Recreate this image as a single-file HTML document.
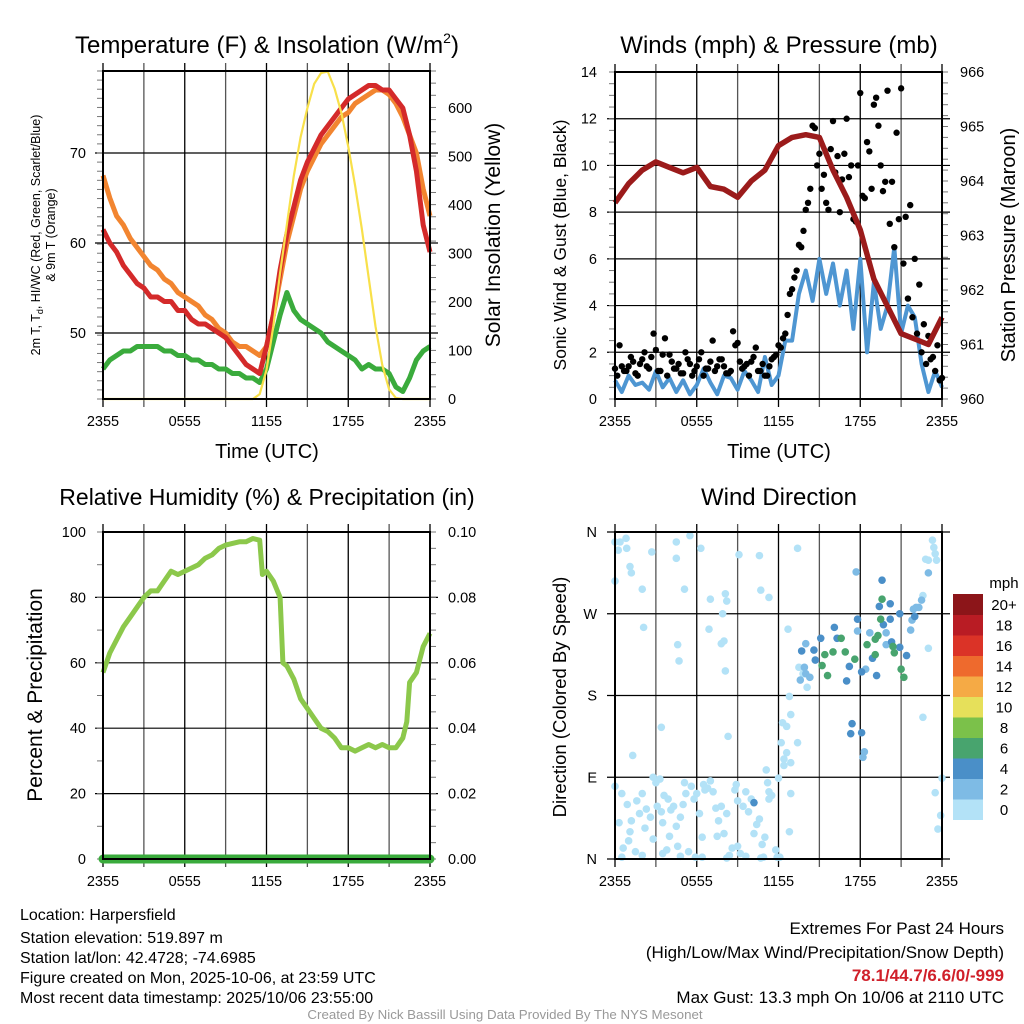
<!DOCTYPE html>
<html><head><meta charset="utf-8"><style>
html,body{margin:0;padding:0;background:#fff;}
svg{display:block;font-family:"Liberation Sans",Arial,sans-serif;}
</style></head><body>
<svg id="fig" width="1024" height="1024" viewBox="0 0 1024 1024" xmlns="http://www.w3.org/2000/svg">
<g id="p1"></g>
<g id="p2"></g>
<g id="p3"></g>
<g id="p4"></g>
<g id="cb"></g>
<g font-size="16" fill="#000">
<text x="20" y="920">Location: Harpersfield</text>
<text x="20" y="943">Station elevation: 519.897 m</text>
<text x="20" y="963">Station lat/lon: 42.4728; -74.6985</text>
<text x="20" y="983">Figure created on Mon, 2025-10-06, at 23:59 UTC</text>
<text x="20" y="1003">Most recent data timestamp: 2025/10/06 23:55:00</text>
</g>
<g text-anchor="end" font-size="17">
<text x="1004" y="934">Extremes For Past 24 Hours</text>
<text x="1004" y="958">(High/Low/Max Wind/Precipitation/Snow Depth)</text>
<text x="1004" y="981" fill="#d0202a" font-weight="bold">78.1/44.7/6.6/0/-999</text>
<text x="1004" y="1003">Max Gust: 13.3 mph On 10/06 at 2110 UTC</text>
</g>
<text x="505" y="1019" text-anchor="middle" font-size="13.3" fill="#999">Created By Nick Bassill Using Data Provided By The NYS Mesonet</text>
</svg>
<script>
// ---------- data ----------
const xTickLabels = ["2355","0555","1155","1755","2355"];
const xTickHours = [0,6,12,18,24];
const tempHours = [0,0.5,1,1.5,2,2.5,3,3.5,4,4.5,5,5.5,6,6.5,7,7.5,8,8.5,9,9.5,10,10.5,11,11.5,12,12.5,13,13.5,14,14.5,15,15.5,16,16.5,17,17.5,18,18.5,19,19.5,20,20.5,21,21.5,22,22.5,23,23.5,24];
const tempRed = [61.5,60,59,57.5,56.5,55.5,55,54,54,53.5,53.5,52.5,52.5,51.5,51,51,50.5,50,49.5,48.5,47.5,46.5,46,45.5,48.5,52,57,61,64,67,69,70.5,72,73,74,75,76,76.5,77,77.5,77.5,77,77,76,75,72,68,62,59];
const tempOrange = [67.5,65,63,62,60.5,59.5,58.5,57.5,57,56,55.5,54.5,54,53.5,53,52,51.5,50.5,50,49,48.5,48.5,48,47.5,48.5,52,56,60,63,66,68,69.5,71,72,73,74,74.5,75.5,76,76.5,77,77,76.5,75.5,74,72,70,66,63];
const tempGreen = [46,47,47.5,48,48,48.5,48.5,48.5,48.5,48,48,47.5,47.5,47,47,46.5,46.5,46,46,45.5,45.5,45,45,44.5,46,49,52,54.5,52.5,51.5,51,50.5,50,49,48.5,48,47.5,47,46,46.5,46,46,45.5,44,43.5,45,47,48,48.5];
const solarHours = [0,11,11.5,12,12.5,13,13.5,14,14.5,15,15.5,16,16.5,17,17.5,18,18.5,19,19.5,20,20.5,21,21.5,22,24];
const solarVals = [0,0,10,60,150,260,360,460,540,600,650,672,675,640,590,520,440,350,250,150,70,20,2,0,0];
const tempTicks = [50,60,70];
const solarTicks = [0,100,200,300,400,500,600];

const windHours = Array.from({length:49},(_,i)=>i/2);
const windVals = [0.8,0.3,1.0,0.6,0.7,0.4,1.2,0.5,0.9,0.3,0.8,0.2,0.6,1.3,0.7,0.2,1.0,0.9,0.4,1.2,0.8,0.3,1.8,0.6,1.0,2.5,2.5,4.5,5.5,4.2,6.0,4.5,5.8,4.0,5.5,3.0,6.0,2.0,5.0,3.0,4.0,6.5,2.8,4.0,3.5,1.5,0.3,1.2,0.5];
const gustHours = Array.from({length:73},(_,i)=>i/3);
const gustVals = [1.3,2.3,1.2,1.4,1.6,1.0,1.7,1.4,1.8,2.1,1.2,2.6,1.9,1.3,1.5,1.1,1.7,1.0,1.4,2.0,1.3,1.6,1.2,1.7,1.4,1.1,2.9,2.4,1.3,1.5,1.6,2.2,1.2,1.0,1.4,1.8,2.3,2.6,3.6,4.7,5.5,6.5,8.1,9.0,11.6,10.5,9.6,8.1,11.9,10.4,9.4,12.0,10.0,7.6,13.1,8.6,10.6,12.6,11.7,8.9,13.2,9.3,11.4,13.3,7.8,8.3,6.0,4.9,3.2,2.7,1.8,2.3,0.9];
const gustHours2 = Array.from({length:72},(_,i)=>i/3+1/6);
const gustVals2 = [1.0,1.4,1.2,1.8,1.1,1.5,2.0,1.3,2.8,1.2,1.9,1.0,1.6,1.3,1.1,2.0,1.5,1.2,1.7,1.0,1.3,2.5,1.4,1.7,1.1,1.2,2.3,1.6,1.4,1.0,1.8,1.2,1.5,1.0,1.7,1.9,2.2,2.8,4.5,5.2,6.6,7.2,8.4,11.7,10.0,9.0,8.4,10.7,9.7,8.0,10.5,9.5,7.7,10.0,8.7,11.0,9.0,12.9,10.0,9.3,7.5,6.5,7.7,5.8,4.3,3.5,2.8,2.0,1.5,1.7,1.2,0.8];
const pressHours = [0,1,2,3,4,5,6,7,8,9,10,11,12,13,14,15,16,17,18,19,20,21,22,23,24];
const pressVals = [963.6,963.95,964.2,964.35,964.25,964.15,964.25,963.9,963.85,963.7,964.0,964.2,964.65,964.8,964.85,964.8,964.2,963.7,963.1,962.2,961.7,961.2,961.1,961.0,961.5];
const windTicks = [0,2,4,6,8,10,12,14];
const pressTicks = [960,961,962,963,964,965,966];

const rhHours = [0,0.5,1,1.5,2,2.5,3,3.5,4,4.5,5,5.5,6,6.5,7,7.5,8,8.5,9,9.5,10,10.5,11,11.5,11.7,12,12.5,13,13.2,13.5,14,14.5,15,15.5,16,16.5,17,17.5,18,18.5,19,19.5,20,20.5,21,21.5,22,22.3,22.5,23,23.5,24];
const rhVals = [57,63,67,71,74,77,80,82,82,85,88,87,88,89,90,92,93,95,96,96.5,97,97,98,97.5,87,88,85,80,60,59,55,49,46,43,40,39,37,34,34,33,34,35,34,35,34,34,37,42,54,57,65,69];
const precipVals = [0,0];
const rhTicks = [0,20,40,60,80,100];
const precipTicks = ["0.00","0.02","0.04","0.06","0.08","0.10"];

const dirLabels = ["N","E","S","W","N"];
const dirTicks = [0,90,180,270,360];
const dirHours = [0,0.37,0.81,0.86,0.24,0,1.1,1.2,2.0,2.7,4.5,4.5,5.1,5.5,6.3,7.0,8.1,8.2,7.9,9.1,10.6,10.7,11.3,13.4,2.1,4.6,4.7,6.9,7.8,8.0,8.1,12.7,3.4,8.3,1.3,22.6,23.0,22.8,23.3,23.4,23.5,23.6,23.0,23.0,22.6,22.1,21.8,21.7,24,23.5,23.9,23.7,
13.5,13.8,14.1,12.8,12.9,12.3,12.6,12.2,13.4,12.6,12.4,12.9,12.4,12.0,11.1,11.2,
14.0,13.7,14.6,15.1,14.7,15.2,15.6,15.4,16.0,16.1,16.3,16.6,16.9,17.2,17.0,17.6,17.7,17.8,17.8,18.1,18.4,18.7,18.9,19.1,18.5,19.1,19.3,19.2,19.6,19.4,19.6,19.5,19.7,20.2,20.2,19.9,19.9,20.3,20.4,20.5,20.9,20.9,21.0,21.2,21.4,22.0,21.9,22.3,22.5,17.4,17.3,18.1,18.3,18.2,10.2,14.0,14.3,13.6,13.9,
0,0.3,0.5,0.6,0.9,1.0,1.2,1.5,1.6,1.8,2.0,2.2,2.3,2.6,2.8,3.0,3.1,3.3,3.4,3.5,3.6,3.8,3.9,4.0,4.1,4.3,4.5,4.6,4.8,5.0,5.2,5.4,5.6,5.8,6.0,6.2,6.4,6.5,6.6,6.8,7.0,7.2,7.4,7.6,7.8,8.0,8.2,8.4,8.6,8.8,9.0,9.2,9.4,9.6,9.8,10.0,10.2,10.4,10.6,10.8,11.0,11.3,11.5,11.8,11.9,5.9,8.2,10.7,10.9,0.5,2.0,3.5,4.8,6.4,1.1,2.8,9.0,9.6,7.5,5.1,12.8,12.9,12.1,11.3,8.9];
const dirDeg = [349,349,353,342,340,306,322,315,297,338,349,331,297,356,342,286,292,284,270,335,334,296,288,342,255,236,218,253,237,240,207,253,145,135,114,156,232,330,351,343,336,329,329,315,290,277,263,252,89,73,48,33,
211,204,189,179,159,150,146,128,128,117,110,106,103,89,98,84,
237,229,230,243,219,213,202,225,228,255,243,243,228,212,196,220,316,264,251,206,209,249,221,225,236,242,246,202,307,278,286,264,258,281,264,249,236,239,234,227,233,270,209,200,224,267,275,277,285,149,138,139,118,112,62,204,200,197,211,
80,40,72,12,60,20,42,8,64,50,72,34,55,46,22,84,58,88,52,40,70,10,66,25,54,58,36,14,46,60,72,8,80,66,72,50,24,82,76,78,86,74,56,42,58,28,50,4,12,76,64,6,58,74,52,66,28,38,44,16,24,66,70,10,2,2,1,1,2,2,4,6,3,2,30,90,14,3,25,84,30,72,2,74,82];
const dirSpeed = [1,1,1,1,1,1,1,1,1,1,1,1,1,1,1,1,1,1,1,1,1,1,1,1,1,1,1,1,1,1,1,1,1,1,1,1,1,1,1,1,1,1,1,3,1,3,3,3,1,1,1,1,
1,1,1,1,1,1,1,1,1,1,1,1,1,1,1,1,
3,5,5,5,5,7,7,7,7,5,5,7,7,5,5,7,3,5,3,5,3,3,5,7,7,7,7,5,5,5,7,7,5,5,5,3,3,5,7,7,5,5,7,7,5,5,3,3,3,5,5,5,3,3,5,3,3,3,3,
1,1,1,1,1,1,1,1,1,1,1,1,1,1,1,1,1,1,1,1,1,1,1,1,1,1,1,1,1,1,1,1,1,1,1,1,1,1,1,1,1,1,1,1,1,1,1,1,1,1,1,1,1,1,1,1,1,1,1,1,1,1,1,1,1,1,1,1,1,1,1,1,1,1,1,1,1,1,1,1,1,1,1,1,1];
const cbLabels = ["0","2","4","6","8","10","12","14","16","18","20+"];
const cbColors = ["#b3e2f7","#7ebbe5","#4a8fc8","#48a46e","#7bc14a","#e6e05a","#f5aa45","#ee6a2d","#db3327","#b91c24","#8c1519"];

// ---------- helpers ----------
const NS="http://www.w3.org/2000/svg";
function mk(parent,tag,attrs,text){const e=document.createElementNS(NS,tag);for(const k in attrs)e.setAttribute(k,attrs[k]);if(text!==undefined)e.textContent=text;parent.appendChild(e);return e;}
function panel(g,x0,y0,x1,y1){
  const X=h=>x0+(x1-x0)*h/24;
  for(let h=0;h<=24;h+=3){const l=mk(g,'line',{x1:X(h),x2:X(h),y1:y0-8,y2:y1+8,stroke:(h%6===0?'#000':'#555'),'stroke-width':1.3});
    
    }
  xTickHours.forEach((h,i)=>{const t=mk(g,'text',{x:X(h),y:y1+27,'text-anchor':'middle','font-size':14.5},xTickLabels[i]);
    
    });
  return X;
}
function hgrid(g,x0,x1,y){const l=mk(g,'line',{x1:x0-8,x2:x1+8,y1:y,y2:y,stroke:'#000','stroke-width':1.2});
  
  }
function pathFrom(xs,ys,X,Y){return xs.map((h,i)=>(i?'L':'M')+X(h).toFixed(1)+','+Y(ys[i]).toFixed(1)).join('');}
function frame(g,x0,y0,x1,y1){const r=mk(g,'rect',{x:x0,y:y0,width:x1-x0,height:y1-y0,fill:'none',stroke:'#000','stroke-width':2});
  
  }
function minor(g,x,y0,y1,n,dir){for(let i=0;i<=n;i++){const y=y0+(y1-y0)*i/n;mk(g,'line',{x1:x,x2:x+dir*6,y1:y,y2:y,stroke:'#777','stroke-width':1});}}
function label(g,x,y,txt,size,anchor,name,rot){const t=mk(g,'text',{x:x,y:y,'font-size':size,'text-anchor':anchor||'middle'},txt);
  if(rot)t.setAttribute('transform',`rotate(-90 ${x} ${y})`);
  
  return t;}

// ---------- panel 1 ----------
(function(){
  const g=document.getElementById('p1');const x0=103,x1=430,y0=71,y1=399;
  const X=panel(g,x0,y0,x1,y1);
  const Y=v=>333-(v-50)*9;const YS=v=>399-v*0.485;
  tempTicks.forEach(v=>{hgrid(g,x0,x1,Y(v));label(g,86,Y(v)+5,String(v),14.5,'end','temp-tick-label');});
  solarTicks.forEach(v=>{label(g,448,YS(v)+5,String(v),14.5,'start','solar-tick-label');});
  minor(g,x1,y0,y1,27,1);minor(g,x0,y0,y1,36,-1);
  let p=mk(g,'path',{d:pathFrom(tempHours,tempOrange,X,Y),fill:'none',stroke:'#f28530','stroke-width':5,'stroke-linejoin':'round'});
  
  
  p=mk(g,'path',{d:pathFrom(tempHours,tempGreen,X,Y),fill:'none',stroke:'#3aab3c','stroke-width':5,'stroke-linejoin':'round'});
  
  
  p=mk(g,'path',{d:pathFrom(tempHours,tempRed,X,Y),fill:'none',stroke:'#d42a2a','stroke-width':5,'stroke-linejoin':'round'});
  
  
  p=mk(g,'path',{d:pathFrom(solarHours,solarVals,X,YS),fill:'none',stroke:'#f8e04a','stroke-width':2.2,'stroke-linejoin':'round'});
  
  
  frame(g,x0,y0,x1,y1);
  const t=label(g,267,53,'Temperature (F) & Insolation (W/m',24,'middle','chart-title');
  mk(t,'tspan',{dy:-10,'font-size':14},'2');mk(t,'tspan',{dy:10},')');
  label(g,267,458,'Time (UTC)',20,'middle','x-axis-title');
  label(g,500,235,'Solar Insolation (Yellow)',21,'middle','right-axis-title',true);
  label(g,40,235,'2m T, T',12.5,'middle','left-axis-title',true).innerHTML='2m T, T<tspan dy="3" font-size="9">d</tspan><tspan dy="-3">, HI/WC (Red, Green, Scarlet/Blue)</tspan>';
  label(g,55,235,'& 9m T (Orange)',12.5,'middle','left-axis-title-line2',true);
})();

// ---------- panel 2 ----------
(function(){
  const g=document.getElementById('p2');const x0=615,x1=942,y0=72,y1=399;
  const X=panel(g,x0,y0,x1,y1);
  const Y=v=>y1-v*(y1-y0)/14;const YP=v=>y1-(v-960)*(y1-y0)/6;
  windTicks.forEach(v=>{if(v>0&&v<14)hgrid(g,x0,x1,Y(v));label(g,597,Y(v)+5,String(v),14.5,'end','wind-tick-label');});
  pressTicks.forEach(v=>{label(g,960,YP(v)+5,String(v),14.5,'start','pressure-tick-label');});
  minor(g,x1,y0,y1,30,1);minor(g,x0,y0,y1,28,-1);
  let p=mk(g,'path',{d:pathFrom(windHours,windVals,X,Y),fill:'none',stroke:'#4e96d2','stroke-width':4,'stroke-linejoin':'round'});
  
  
  gustHours.forEach((h,i)=>{const c=mk(g,'circle',{cx:X(h),cy:Y(gustVals[i]),r:3.2,fill:'#000'});
    
    });
  gustHours2.forEach((h,i)=>{const c=mk(g,'circle',{cx:X(h),cy:Y(gustVals2[i]),r:3.2,fill:'#000'});
    
    });
  p=mk(g,'path',{d:pathFrom(pressHours,pressVals,X,YP),fill:'none',stroke:'#9b1b1b','stroke-width':5.5,'stroke-linejoin':'round'});
  
  
  frame(g,x0,y0,x1,y1);
  label(g,779,53,'Winds (mph) & Pressure (mb)',24,'middle','chart-title');
  label(g,779,458,'Time (UTC)',20,'middle','x-axis-title');
  label(g,566,245,'Sonic Wind & Gust (Blue, Black)',17.5,'middle','left-axis-title',true);
  label(g,1015,245,'Station Pressure (Maroon)',20,'middle','right-axis-title',true);
})();

// ---------- panel 3 ----------
(function(){
  const g=document.getElementById('p3');const x0=103,x1=430,y0=532,y1=859;
  const X=panel(g,x0,y0,x1,y1);
  const Y=v=>y1-v*(y1-y0)/100;
  rhTicks.forEach((v,i)=>{if(v>0&&v<100)hgrid(g,x0,x1,Y(v));label(g,86,Y(v)+5,String(v),14.5,'end','rh-tick-label');
    label(g,448,Y(v)+5,precipTicks[i],14.5,'start','precip-tick-label');});
  minor(g,x1,y0,y1,20,1);minor(g,x0,y0,y1,10,-1);
  let p=mk(g,'path',{d:pathFrom(rhHours,rhVals,X,Y),fill:'none',stroke:'#8cc84b','stroke-width':5,'stroke-linejoin':'round'});
  
  
  p=mk(g,'path',{d:pathFrom([0,24],precipVals.map(v=>v*1000),X,Y),fill:'none',stroke:'#3aab3c','stroke-width':9,'stroke-linecap':'round'});
  
  
  frame(g,x0,y0,x1,y1);
  label(g,267,505,'Relative Humidity (%) & Precipitation (in)',23,'middle','chart-title');
  label(g,42,695,'Percent & Precipitation',21,'middle','left-axis-title',true);
})();

// ---------- panel 4 ----------
(function(){
  const g=document.getElementById('p4');const x0=615,x1=942,y0=532,y1=859;
  const X=panel(g,x0,y0,x1,y1);
  const Y=v=>y1-v*(y1-y0)/360;
  dirTicks.forEach((v,i)=>{hgrid(g,x0,x1,Y(v));label(g,597,Y(v)+5,dirLabels[i],14.5,'end','direction-tick-label');});
  const order=dirHours.map((_,i)=>i).sort((a,b)=>dirSpeed[a]-dirSpeed[b]);
  order.forEach(i=>{const ci=Math.min(10,Math.floor(dirSpeed[i]/2));
    const c=mk(g,'circle',{cx:X(dirHours[i]),cy:Y(dirDeg[i]),r:3.8,fill:cbColors[ci]});
    
    });
  frame(g,x0,y0,x1,y1);
  label(g,779,505,'Wind Direction',24,'middle','chart-title');
  label(g,566,697,'Direction (Colored By Speed)',18.5,'middle','left-axis-title',true);
})();

// ---------- colorbar ----------
(function(){
  const g=document.getElementById('cb');const top=594,h=20.5;
  cbColors.forEach((c,i)=>{const r=mk(g,'rect',{x:953,y:top+(10-i)*h,width:30,height:h+0.5,fill:c});
    
    
    label(g,1004,top+(10-i)*h+16,cbLabels[i],15,'middle','colorbar-label');});
  label(g,1004,588,'mph',15,'middle','colorbar-title');
})();
</script>
</body></html>
